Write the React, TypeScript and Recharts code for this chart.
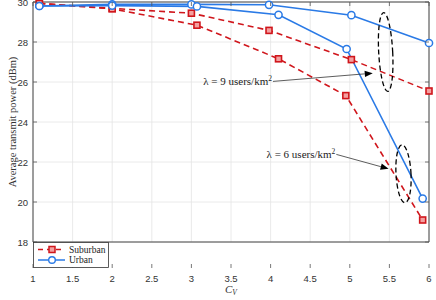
import React from 'react';
import { LineChart, Line, XAxis, YAxis, CartesianGrid, ReferenceArea, ReferenceDot, ReferenceLine, Legend, Label } from 'recharts';

const xTicks = [1, 1.5, 2, 2.5, 3, 3.5, 4, 4.5, 5, 5.5, 6];
const yTicks = [18, 20, 22, 24, 26, 28, 30];

const suburban9X = [1.08, 2, 3, 3.98, 5.02, 6];
const suburban9Y = [29.93, 29.68, 29.44, 28.58, 27.12, 25.55];
const urban9X = [1.08, 2, 3, 3.98, 5.02, 6];
const urban9Y = [29.8, 29.88, 29.88, 29.86, 29.34, 27.95];
const suburban6X = [1.08, 2, 3.07, 4.1, 4.95, 5.92];
const suburban6Y = [29.93, 29.66, 28.84, 27.16, 25.32, 19.1];
const urban6X = [1.08, 2, 3.07, 4.1, 4.96, 5.92];
const urban6Y = [29.8, 29.82, 29.78, 29.36, 27.65, 20.17];

const legendLabels = ['Suburban', 'Urban'];
const yAxisTitle = 'Average transmit power (dBm)';
const annot9 = { text: '9', from: [4.03, 26.03], to: [5.29, 26.44], ellipse: [5.453, 27.5] };
const annot6 = { text: '6', from: [4.83, 22.38], to: [5.49, 21.66], ellipse: [5.678, 21.41] };

const zip = (xs: number[], ys: number[]) => xs.map((x, i) => ({ x, y: ys[i] }));

const RED = '#d0161c';
const BLUE = '#2a7ae6';
const PLOT_LEFT = 33;
const PLOT_RIGHT = 429;
const PLOT_TOP = 2;
const PLOT_BOTTOM = 268;
const TICK_FONT = "'Liberation Sans', Arial, sans-serif";
const SERIF = "'Liberation Serif', 'DejaVu Serif', serif";

const XTick = (props: any) => {
  const { x, payload } = props;
  return (
    <g>
      <line x1={x} x2={x} y1={PLOT_BOTTOM} y2={PLOT_BOTTOM - 4} stroke="#555" strokeWidth={0.8} />
      <line x1={x} x2={x} y1={PLOT_TOP} y2={PLOT_TOP + 4} stroke="#555" strokeWidth={0.8} />
      <text x={x} y={PLOT_BOTTOM + 14} textAnchor="middle" fontSize={9.5} fontFamily={TICK_FONT} fill="#333">
        {payload.value}
      </text>
    </g>
  );
};

const YTick = (props: any) => {
  const { y, payload } = props;
  return (
    <g>
      <line x1={PLOT_LEFT} x2={PLOT_LEFT + 4} y1={y} y2={y} stroke="#555" strokeWidth={0.8} />
      <line x1={PLOT_RIGHT} x2={PLOT_RIGHT - 4} y1={y} y2={y} stroke="#555" strokeWidth={0.8} />
      <text x={PLOT_LEFT - 5} y={y + 3.5} textAnchor="end" fontSize={9.5} fontFamily={TICK_FONT} fill="#333">
        {payload.value}
      </text>
    </g>
  );
};

const SquareDot = (props: any) => {
  const { cx, cy } = props;
  if (cx == null || cy == null) return null;
  return <rect x={cx - 3} y={cy - 3} width={6} height={6} fill="#f3a0a0" stroke={RED} strokeWidth={1.6} />;
};

const CircleDot = (props: any) => {
  const { cx, cy } = props;
  if (cx == null || cy == null) return null;
  return <circle cx={cx} cy={cy} r={3.6} fill="#fff" stroke={BLUE} strokeWidth={1.5} />;
};

const makeArrow = (label: string) => (props: any) => {
  const { x1, y1, x2, y2 } = props;
  if (x1 == null) return null;
  const ang = Math.atan2(y2 - y1, x2 - x1);
  const L = 8;
  const W = 3.2;
  const bx = x2 - L * Math.cos(ang);
  const by = y2 - L * Math.sin(ang);
  const p1 = `${x2},${y2}`;
  const p2 = `${bx + W * Math.sin(ang)},${by - W * Math.cos(ang)}`;
  const p3 = `${bx - W * Math.sin(ang)},${by + W * Math.cos(ang)}`;
  return (
    <g>
      <line x1={x1} y1={y1} x2={bx} y2={by} stroke="#333" strokeWidth={0.8} />
      <polygon points={`${p1} ${p2} ${p3}`} fill="#000" />
      <text x={x1 - 1} y={y1 + 4} textAnchor="end" fontSize={11} fontFamily={SERIF} fill="#222">
        {'λ = ' + label + ' users/km'}
        <tspan fontSize={7.5} dy={-4}>2</tspan>
      </text>
    </g>
  );
};

const makeEllipse = (rx: number, ry: number) => (props: any) => {
  const { cx, cy } = props;
  if (cx == null) return null;
  return (
    <ellipse cx={cx} cy={cy} rx={rx} ry={ry} fill="none" stroke="#000" strokeWidth={1.3} strokeDasharray="5 3" transform={`rotate(-3 ${cx} ${cy})`} />
  );
};

const LegendBox = () => (
  <svg width={76} height={26} style={{ display: 'block' }}>
    <rect x={0.5} y={0.5} width={75} height={25} fill="#fff" stroke="#333" strokeWidth={0.8} />
    <line x1={5} x2={32} y1={7.5} y2={7.5} stroke={RED} strokeWidth={1.5} strokeDasharray="5 4" />
    <rect x={16} y={4.5} width={6} height={6} fill="#f3a0a0" stroke={RED} strokeWidth={1.5} />
    <text x={36} y={10.5} fontSize={9.5} fontFamily={SERIF} fill="#222">{legendLabels[0]}</text>
    <line x1={5} x2={32} y1={18} y2={18} stroke={BLUE} strokeWidth={1.5} />
    <circle cx={19} cy={18} r={3.3} fill="#fff" stroke={BLUE} strokeWidth={1.4} />
    <text x={36} y={21} fontSize={9.5} fontFamily={SERIF} fill="#222">{legendLabels[1]}</text>
  </svg>
);

const XLabel = (props: any) => {
  const vb = props.viewBox || {};
  const cx = (vb.x || 0) + (vb.width || 0) / 2;
  return (
    <text x={cx - 6} y={293} fontSize={11} fontFamily={SERIF} fontStyle="italic" fill="#333">
      C<tspan fontSize={7.5} dy={2}>V</tspan>
    </text>
  );
};

const YLabel = (props: any) => {
  const vb = props.viewBox || {};
  const cy = (vb.y || 0) + (vb.height || 0) / 2;
  return (
    <text x={12} y={cy} transform={`rotate(-90 12 ${cy})`} textAnchor="middle" dominantBaseline="central" fontSize={10.5} fontFamily={SERIF} fill="#333">
      {yAxisTitle}
    </text>
  );
};

export default function App() {
  return (
    <div style={{ position: 'absolute', left: 0, top: 0, width: 436, height: 300, background: '#fff' }}>
      <LineChart width={436} height={300} margin={{ top: PLOT_TOP, right: 436 - PLOT_RIGHT, left: 0, bottom: 0 }}>
        <CartesianGrid stroke="#e4e4e4" strokeWidth={0.8} />
        <XAxis
          type="number"
          dataKey="x"
          domain={[1, 6]}
          ticks={xTicks}
          allowDuplicatedCategory={false}
          height={300 - PLOT_BOTTOM}
          axisLine={false}
          tickLine={false}
          tick={<XTick />}
          interval={0}
        >
          <Label content={<XLabel />} />
        </XAxis>
        <YAxis
          type="number"
          domain={[18, 30]}
          ticks={yTicks}
          width={PLOT_LEFT}
          axisLine={false}
          tickLine={false}
          tick={<YTick />}
          interval={0}
        >
          <Label content={<YLabel />} />
        </YAxis>
        <ReferenceArea x1={1} x2={6} y1={18} y2={30} fill="none" stroke="#444" strokeWidth={1} ifOverflow="visible" />
        <Line data={zip(suburban9X, suburban9Y)} dataKey="y" stroke={RED} strokeWidth={1.6} strokeDasharray="6 4" dot={<SquareDot />} isAnimationActive={false} legendType="none" />
        <Line data={zip(suburban6X, suburban6Y)} dataKey="y" stroke={RED} strokeWidth={1.6} strokeDasharray="6 4" dot={<SquareDot />} isAnimationActive={false} legendType="none" />
        <Line data={zip(urban9X, urban9Y)} dataKey="y" stroke={BLUE} strokeWidth={1.6} dot={<CircleDot />} isAnimationActive={false} legendType="none" />
        <Line data={zip(urban6X, urban6Y)} dataKey="y" stroke={BLUE} strokeWidth={1.6} dot={<CircleDot />} isAnimationActive={false} legendType="none" />
        <ReferenceDot x={annot9.ellipse[0]} y={annot9.ellipse[1]} shape={makeEllipse(7, 39.5)} ifOverflow="visible" />
        <ReferenceDot x={annot6.ellipse[0]} y={annot6.ellipse[1]} shape={makeEllipse(7.5, 29)} ifOverflow="visible" />
        <ReferenceLine segment={[{ x: annot9.from[0], y: annot9.from[1] }, { x: annot9.to[0], y: annot9.to[1] }]} shape={makeArrow(annot9.text)} ifOverflow="visible" />
        <ReferenceLine segment={[{ x: annot6.from[0], y: annot6.from[1] }, { x: annot6.to[0], y: annot6.to[1] }]} shape={makeArrow(annot6.text)} ifOverflow="visible" />
        <Legend content={<LegendBox />} wrapperStyle={{ position: 'absolute', left: PLOT_LEFT, top: 242, width: 76, height: 26 }} />
      </LineChart>
    </div>
  );
}
